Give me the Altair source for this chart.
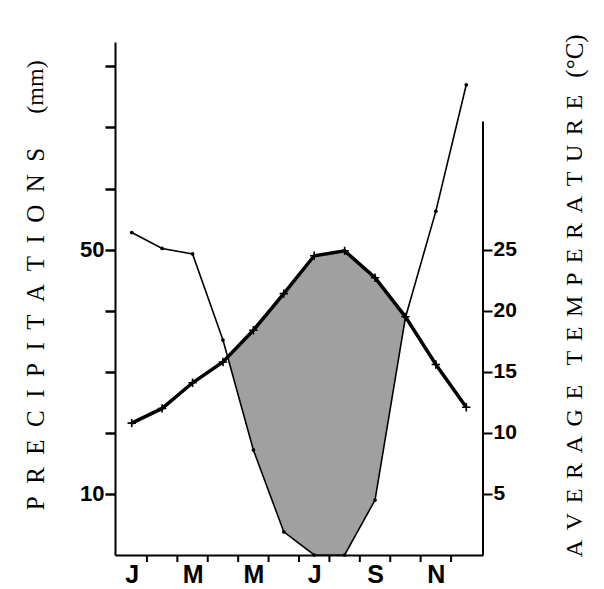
import json
import altair as alt
import pandas as pd

# ---- data ----
month_letters = ["J", "F", "M", "A", "M", "J", "J", "A", "S", "O", "N", "D"]
month_num = list(range(1, 13))
precip_mm = [52.8, 50.2, 49.3, 35.2, 17.2, 3.8, 0.0, 0.0, 9.0, 38.9, 56.3, 77.0]
temp_c = [10.8, 12.0, 14.1, 15.8, 18.4, 21.4, 24.5, 24.9, 22.7, 19.5, 15.6, 12.1]
precip_ticks = [10, 20, 30, 40, 50, 60, 70, 80]
precip_labelled = [10, 50]
temp_ticks = [5, 10, 15, 20, 25]
month_label_values = [1, 3, 5, 7, 9, 11]
month_boundaries = [1.5, 2.5, 3.5, 4.5, 5.5, 6.5, 7.5, 8.5, 9.5, 10.5, 11.5]
precip_domain = [0, 84]
temp_domain = [0, 42]
temp_axis_top = 35.5

W, H = 368, 513

df = pd.DataFrame({"m": month_num, "P": precip_mm, "T": temp_c})

# dry-period polygon (2T > P), with crossing points computed from the two series
rows = []
for i in range(len(month_num)):
    d = 2 * temp_c[i] - precip_mm[i]
    if d >= 0:
        rows.append({"m": month_num[i], "top": 2 * temp_c[i], "bot": precip_mm[i]})
    if i + 1 < len(month_num):
        d2 = 2 * temp_c[i + 1] - precip_mm[i + 1]
        if (d < 0 <= d2) or (d >= 0 > d2):
            t = d / (d - d2)
            xm = month_num[i] + t
            yv = precip_mm[i] + t * (precip_mm[i + 1] - precip_mm[i])
            rows.append({"m": xm, "top": yv, "bot": yv})
dry = pd.DataFrame(rows).sort_values("m")

xscale = alt.Scale(domain=[0.45, 12.55], nice=False, zero=False)
xaxis = alt.Axis(
    values=month_label_values,
    labelExpr=json.dumps(month_letters) + "[datum.value - 1]",
    ticks=False, tickSize=0, grid=False, title=None,
    domainColor="black", domainWidth=2,
    labelFont="Liberation Sans", labelFontWeight="bold", labelFontSize=25,
    labelColor="black", labelPadding=7,
)
X = lambda f: alt.X(f, type="quantitative", scale=xscale, axis=xaxis)

pscale = alt.Scale(domain=precip_domain, nice=False, zero=False)
paxis = alt.Axis(
    orient="left", values=precip_ticks,
    labelExpr="indexof(" + json.dumps(precip_labelled) + ", datum.value) >= 0 ? datum.label : ''",
    tickSize=10, tickWidth=2.5, tickColor="black", grid=False, title=None,
    domainColor="black", domainWidth=2,
    labelFont="Liberation Sans", labelFontWeight="bold", labelFontSize=22,
    labelColor="black", labelPadding=1,
)
tscale = alt.Scale(domain=temp_domain, nice=False, zero=False)
taxis = alt.Axis(
    orient="right", values=temp_ticks,
    tickSize=9, tickWidth=2, tickColor="black", grid=False, title=None,
    domain=False,
    labelFont="Liberation Sans", labelFontWeight="bold", labelFontSize=21,
    labelColor="black", labelPadding=1,
)

area = alt.Chart(dry).mark_area(color="#a0a0a0", opacity=1).encode(
    x=X("m"),
    y=alt.Y("top:Q", scale=pscale, axis=paxis),
    y2="bot:Q",
)
pline = alt.Chart(df).mark_line(color="black", strokeWidth=1.6).encode(
    x=X("m"), y=alt.Y("P:Q", scale=pscale, axis=paxis)
)
ppts = alt.Chart(df).mark_point(filled=True, color="black", size=14, opacity=1).encode(
    x=X("m"), y=alt.Y("P:Q", scale=pscale, axis=paxis)
)
bdf = pd.DataFrame({"b": month_boundaries})
xticks = alt.Chart(bdf).mark_rule(color="black", strokeWidth=2).encode(
    x=X("b"), y=alt.value(H), y2=alt.value(H + 7)
)

serif = "Liberation Serif"
left_title = alt.Chart(pd.DataFrame({"t": ["\u2002".join("PRECIPITATIONS")]})).mark_text(
    font=serif, fontSize=25, angle=270, align="center", baseline="middle", color="black"
).encode(text="t:N", x=alt.value(-79), y=alt.value(287))
left_unit = alt.Chart(pd.DataFrame({"t": ["(mm)"]})).mark_text(
    font=serif, fontSize=24, angle=270, align="center", baseline="middle", color="black"
).encode(text="t:N", x=alt.value(-79), y=alt.value(45))

left = alt.layer(area, pline, ppts, xticks, left_title, left_unit)

tline = alt.Chart(df).mark_line(color="black", strokeWidth=3.5).encode(
    x=X("m"), y=alt.Y("T:Q", scale=tscale, axis=taxis)
)
tpts = alt.Chart(df).mark_point(
    shape="M-1,0H1M0,-1V1", filled=False, color="black", size=70, strokeWidth=1.6, opacity=1
).encode(x=X("m"), y=alt.Y("T:Q", scale=tscale, axis=taxis))
raxis_line = alt.Chart(pd.DataFrame({"a": [0], "b": [temp_axis_top]})).mark_rule(
    color="black", strokeWidth=2
).encode(x=alt.value(W), y=alt.Y("a:Q", scale=tscale, axis=taxis), y2="b:Q")

gap = "\u2009\u2009"
right_title = alt.Chart(pd.DataFrame({"t": [gap.join("AVERAGE") + gap * 2 + gap.join("TEMPERATURE")]})).mark_text(
    font=serif, fontSize=24, angle=270, align="center", baseline="middle", color="black"
).encode(text="t:N", x=alt.value(460), y=alt.value(284))
right_unit = alt.Chart(pd.DataFrame({"t": ["(°C)"]})).mark_text(
    font=serif, fontSize=25, angle=270, align="center", baseline="middle", color="black"
).encode(text="t:N", x=alt.value(460), y=alt.value(14))

right = alt.layer(raxis_line, tline, tpts, right_title, right_unit)

chart = alt.layer(left, right).resolve_scale(y="independent").properties(
    width=W, height=H,
    autosize=alt.AutoSizeParams(type="none"),
    padding={"left": 115, "top": 42, "right": 604 - 115 - W, "bottom": 589 - 42 - H},
    background="white",
).configure_view(stroke=None)

chart.save("out.html", embed_options={"renderer": "svg", "actions": False})
